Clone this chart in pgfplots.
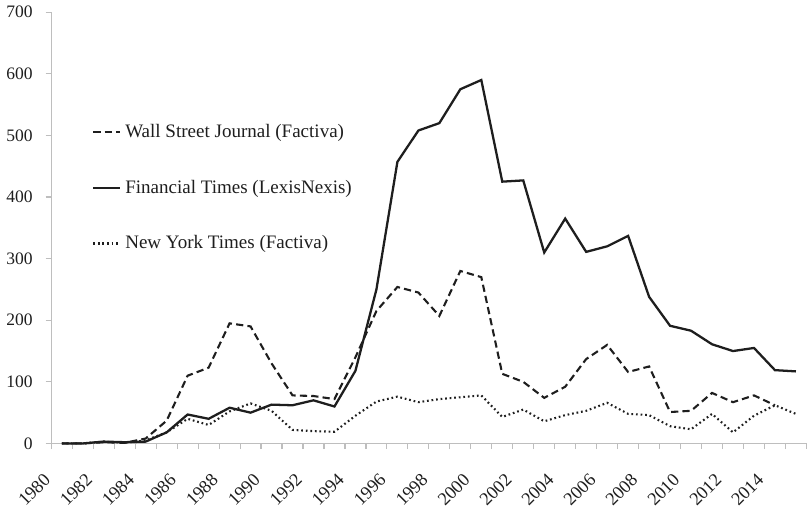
\documentclass[border=0pt]{standalone}
\usepackage{fontspec}
\setmainfont{Liberation Serif}
\usepackage{pgfplots}
\pgfplotsset{compat=1.18}
\definecolor{axgray}{RGB}{190,190,190}
\definecolor{ink}{RGB}{30,30,30}
\begin{document}
\begin{tikzpicture}
\begin{axis}[
  scale only axis,
  width=397pt, height=226.7pt,
  xmin=-0.5, xmax=35.5,
  ymin=0, ymax=700,
  axis x line*=bottom,
  axis y line*=left,
  axis line style={axgray, line width=0.6pt},
  ytick={0,100,...,700},
  xtick={0,2,...,34},
  xticklabels={1980,1982,1984,1986,1988,1990,1992,1994,1996,1998,2000,2002,2004,2006,2008,2010,2012,2014},
  minor xtick={-0.5,0.5,...,35.5},
  major x tick style={draw=none},
  minor x tick style={axgray, line width=0.6pt},
  y tick style={axgray, line width=0.6pt},
  tick align=outside,
  major tick length=3pt,
  minor tick length=3pt,
  x tick label style={xshift=-10pt, yshift=-12pt, rotate=45, anchor=north east, inner sep=0pt, font=\fontsize{9.6}{11}\selectfont, text=ink},
  y tick label style={font=\fontsize{9.2}{11}\selectfont, text=ink, xshift=-3.3pt},
  /pgf/number format/assume math mode=true,
  legend style={draw=none, fill=none, at={(axis cs:1.43,525)}, anchor=north west,
    font=\fontsize{10}{12}\selectfont, row sep=16.8pt, inner sep=0pt, text=ink},
  legend cell align=left,
  legend image code/.code={\draw[#1] (0cm,0cm) -- (0.5cm,0cm);},
  clip=false,
]
\addplot[ink, line width=1.1pt, dash pattern=on 3.8pt off 2.2pt] coordinates {
(0,0)(1,0)(2,2)(3,1)(4,8)(5,37)(6,110)(7,123)(8,195)(9,190)(10,130)(11,78)(12,77)(13,72)(14,140)(15,215)(16,254)(17,245)(18,207)(19,280)(20,270)(21,113)(22,100)(23,74)(24,92)(25,137)(26,160)(27,116)(28,125)(29,51)(30,53)(31,82)(32,67)(33,78)(34,62)};
\addlegendentry{Wall Street Journal (Factiva)}
\addplot[ink, line width=1.2pt] coordinates {
(0,0)(1,0)(2,3)(3,2)(4,3)(5,18)(6,47)(7,40)(8,58)(9,50)(10,63)(11,62)(12,70)(13,60)(14,118)(15,250)(16,457)(17,508)(18,520)(19,575)(20,590)(21,425)(22,427)(23,310)(24,365)(25,311)(26,320)(27,337)(28,238)(29,191)(30,183)(31,161)(32,150)(33,155)(34,119)(35,117)};
\addlegendentry{Financial Times (LexisNexis)}
\addplot[ink, line width=1.1pt, dash pattern=on 0.9pt off 1.5pt] coordinates {
(0,0)(1,0)(2,3)(3,1)(4,5)(5,18)(6,40)(7,30)(8,52)(9,65)(10,53)(11,22)(12,20)(13,19)(14,45)(15,68)(16,76)(17,67)(18,72)(19,75)(20,78)(21,43)(22,55)(23,36)(24,46)(25,53)(26,66)(27,48)(28,46)(29,28)(30,23)(31,48)(32,18)(33,45)(34,62)(35,48)};
\addlegendentry{New York Times (Factiva)}
\end{axis}
\end{tikzpicture}
\end{document}
